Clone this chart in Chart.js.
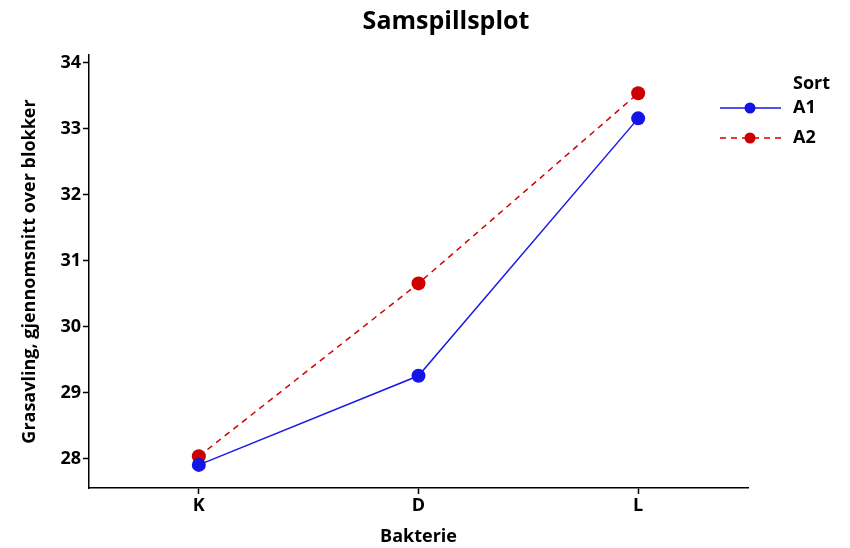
<!DOCTYPE html>
<html><head><meta charset="utf-8">
<script src="https://cdn.jsdelivr.net/npm/chart.js@4/dist/chart.umd.min.js"></script>
<style>html,body{margin:0;padding:0;background:#fff}#wrap{width:850px;height:548px}</style>
</head><body><div id="wrap"><canvas id="c"></canvas></div>
<script>
const categories = ['K', 'D', 'L'];
const seriesA1 = [27.91, 29.26, 33.16];
const seriesA2 = [28.04, 30.66, 33.54];
const seriesNames = ['A1', 'A2'];
const legendTitle = 'Sort';
const chartTitle = 'Samspillsplot';
const yTicks = [28, 29, 30, 31, 32, 33, 34];

const FONT = '"Open Sans", "Noto Sans", sans-serif';

const decorPlugin = {
  id: 'decor',
  afterDraw(chart) {
    const ctx = chart.ctx;
    ctx.save();
    ctx.fillStyle = '#000';
    ctx.textBaseline = 'middle';
    ctx.textAlign = 'center';
    ctx.font = 'bold 25px ' + FONT;
    ctx.fillText(chartTitle, 446, 22);
    ctx.font = 'bold 18px ' + FONT;
    ctx.textAlign = 'left';
    ctx.fillText(legendTitle, 793, 84);
    chart.data.datasets.forEach((ds, i) => {
      const y = 108 + i * 30;
      ctx.strokeStyle = ds.borderColor;
      ctx.lineWidth = ds.borderWidth;
      ctx.setLineDash(ds.borderDash || []);
      ctx.beginPath(); ctx.moveTo(720, y); ctx.lineTo(781, y); ctx.stroke();
      ctx.setLineDash([]);
      ctx.fillStyle = ds.pointBackgroundColor;
      ctx.beginPath(); ctx.arc(750, y, 5.5, 0, Math.PI * 2); ctx.fill();
      ctx.fillStyle = '#000';
      ctx.fillText(ds.label, 793, y);
    });
    ctx.restore();
  }
};

new Chart(document.getElementById('c'), {
  type: 'line',
  data: {
    labels: categories,
    datasets: [
      { label: seriesNames[0], data: seriesA1, borderColor: '#1a1ae6', backgroundColor: '#1a1ae6',
        pointBackgroundColor: '#1414e6', pointBorderWidth: 0, pointRadius: 7, borderWidth: 1.5, tension: 0 },
      { label: seriesNames[1], data: seriesA2, borderColor: '#d40000', backgroundColor: '#cc0000',
        pointBackgroundColor: '#cc0000', pointBorderWidth: 0, pointRadius: 7, borderWidth: 1.5, borderDash: [6, 5], tension: 0 }
    ]
  },
  options: {
    responsive: true, maintainAspectRatio: false, animation: false,
    layout: { padding: { left: 0, right: 102, top: 55, bottom: 0 } },
    plugins: { legend: { display: false }, tooltip: { enabled: false }, title: { display: false } },
    scales: {
      x: {
        offset: true,
        grid: { display: true, drawOnChartArea: false, drawTicks: true, tickLength: 6, color: '#000', tickWidth: 1.5 },
        border: { display: true, color: '#000', width: 1.5 },
        ticks: { color: '#000', font: { family: FONT, size: 18, weight: 'bold' }, padding: 1 },
        title: { display: true, text: 'Bakterie', color: '#000', font: { family: FONT, size: 18, weight: 'bold' }, padding: { top: 4, bottom: 0 } },
        afterFit(s) { s.height = 60; }
      },
      y: {
        min: 27.56, max: 34.12,
        afterBuildTicks(s) { s.ticks = yTicks.map(v => ({ value: v })); },
        grid: { display: true, drawOnChartArea: false, drawTicks: true, tickLength: 6, color: '#000', tickWidth: 1.5 },
        border: { display: true, color: '#000', width: 1.5 },
        ticks: { color: '#000', font: { family: FONT, size: 18, weight: 'bold' }, padding: 2 },
        title: { display: true, text: 'Grasavling, gjennomsnitt over blokker', color: '#000', font: { family: FONT, size: 18, weight: 'bold' }, padding: { top: 19, bottom: 4 } },
        afterFit(s) { s.width = 89; }
      }
    }
  },
  plugins: [decorPlugin]
});
</script></body></html>
